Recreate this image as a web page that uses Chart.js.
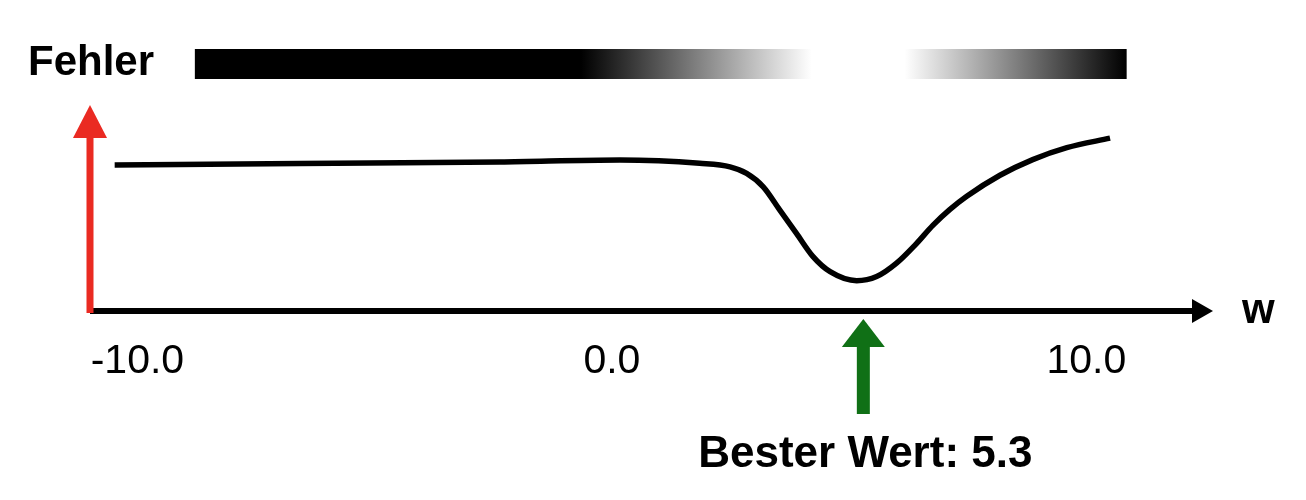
<!DOCTYPE html>
<html>
<head>
<meta charset="utf-8">
<script src="https://cdn.jsdelivr.net/npm/chart.js@4.4.1/dist/chart.umd.min.js"></script>
<style>
body{margin:0;background:#fff;}
.box{width:1306px;height:500px;}
</style>
</head>
<body>
<div class="box"><canvas id="grafik"></canvas></div>
<script>

// Fehlerkurve (w -> Fehler)
const wWerte = [-10.48,-6.58,-2.36,0.17,1.85,2.49,2.84,3.19,3.54,3.89,4.24,4.60,5.16,5.58,6.00,6.39,6.77,7.12,7.48,8.18,8.87,9.59,10.50];
const fehlerWerte = [7.09,7.16,7.23,7.33,7.17,7.00,6.68,6.03,4.90,3.77,2.64,1.91,1.47,1.67,2.32,3.20,4.17,4.92,5.57,6.59,7.35,7.93,8.39];

const tickWerte = [-10,0,10];

const besterWert = 5.3;

// Graubalken oben: Positionen in w und Helligkeit (0 = schwarz, 1 = weiss)
const balkenW = [-8.79,-0.65,4.21,6.17,10.85];
const balkenHelligkeit = [0,0,1,1,0];



const schrift = "'Liberation Sans', Arial, Helvetica, sans-serif";

function pfeilHoch(ctx,x,yUnten,yOben,schaft,kopfB,kopfH,farbe){
ctx.fillStyle=farbe;
ctx.fillRect(x-schaft/2,yOben+kopfH-1,schaft,yUnten-(yOben+kopfH-1));
ctx.beginPath();
ctx.moveTo(x-kopfB/2,yOben+kopfH);
ctx.lineTo(x,yOben);
ctx.lineTo(x+kopfB/2,yOben+kopfH);
ctx.closePath();
ctx.fill();
}



const zeichnung = {

id:"zeichnung",

beforeDatasetsDraw(chart){

const ctx=chart.ctx;
const a=chart.chartArea;
const xs=chart.scales.x;

ctx.save();

// Graubalken
const x0=xs.getPixelForValue(balkenW[0]);
const x1=xs.getPixelForValue(balkenW[balkenW.length-1]);
const grad=ctx.createLinearGradient(x0,0,x1,0);
balkenW.forEach((w,i)=>{
const g=Math.round(balkenHelligkeit[i]*255);
grad.addColorStop((xs.getPixelForValue(w)-x0)/(x1-x0),"rgb("+g+","+g+","+g+")");
});
ctx.fillStyle=grad;
ctx.fillRect(x0,a.top-56,x1-x0,30);

// x-Achse mit Pfeil
ctx.fillStyle="#000";
ctx.fillRect(a.left,a.bottom-3,a.right-a.left-20,6);
ctx.beginPath();
ctx.moveTo(a.right-21,a.bottom-12);
ctx.lineTo(a.right,a.bottom);
ctx.lineTo(a.right-21,a.bottom+12);
ctx.closePath();
ctx.fill();

// y-Achse (rot)
pfeilHoch(ctx,a.left,a.bottom+2,a.top,7,34,33,"#EA2A22");

// gruener Pfeil beim besten Wert
pfeilHoch(ctx,xs.getPixelForValue(besterWert),a.bottom+103,a.bottom+8,13,43,28,"#107016");

ctx.restore();

},

afterDraw(chart){

const ctx=chart.ctx;
const a=chart.chartArea;
const xs=chart.scales.x;

ctx.save();
ctx.fillStyle="#000";
ctx.textBaseline="alphabetic";

ctx.font="41px "+schrift;
ctx.textAlign="center";
tickWerte.forEach(t=>{
ctx.fillText(t.toFixed(1),xs.getPixelForValue(t),a.bottom+62);
});

ctx.font="bold 42px "+schrift;
ctx.fillText("Fehler",a.left+1,a.top-30);

ctx.textAlign="left";
ctx.fillText("w",a.right+29,a.bottom+12);

ctx.textAlign="center";
ctx.font="bold 44px "+schrift;
ctx.fillText("Bester Wert: "+besterWert.toFixed(1),xs.getPixelForValue(besterWert)+2,a.bottom+156);

ctx.restore();

}

};



const grafik = new Chart(document.getElementById("grafik"),{

type:"line",

data:{
datasets:[{
data:wWerte.map((w,i)=>({x:w,y:fehlerWerte[i]})),
borderColor:"#000",
borderWidth:5.5,
borderCapStyle:"butt",
pointRadius:0,
cubicInterpolationMode:"monotone",
fill:false
}]
},

options:{
responsive:true,
maintainAspectRatio:false,
animation:false,
layout:{padding:{left:90,right:93,top:105,bottom:189}},
plugins:{legend:{display:false},tooltip:{enabled:false}},
scales:{
x:{type:"linear",min:-11,max:12.67,display:false},
y:{min:0,max:10,display:false}
}
},

plugins:[zeichnung]

});

</script>
</body>
</html>
